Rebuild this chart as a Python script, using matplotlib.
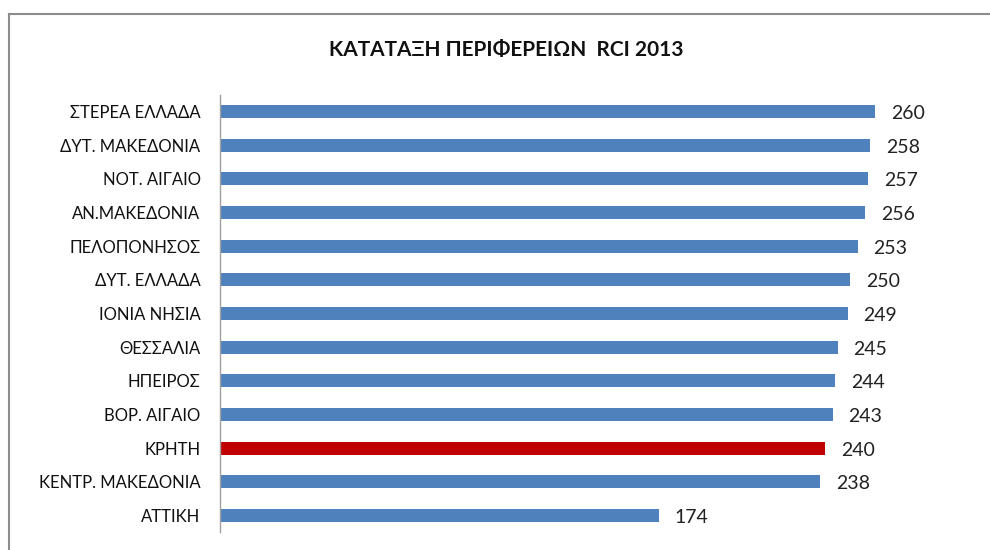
import matplotlib
matplotlib.use('Agg')
import matplotlib.pyplot as plt
from matplotlib.lines import Line2D

plt.rcParams['font.family'] = ['Lato', 'Open Sans', 'DejaVu Sans']

# data (top to bottom as shown)
regions = ['ΣΤΕΡΕΑ ΕΛΛΑΔΑ', 'ΔΥΤ. ΜΑΚΕΔΟΝΙΑ', 'ΝΟΤ. ΑΙΓΑΙΟ', 'ΑΝ.ΜΑΚΕΔΟΝΙΑ',
           'ΠΕΛΟΠΟΝΗΣΟΣ', 'ΔΥΤ. ΕΛΛΑΔΑ', 'ΙΟΝΙΑ ΝΗΣΙΑ', 'ΘΕΣΣΑΛΙΑ', 'ΗΠΕΙΡΟΣ',
           'ΒΟΡ. ΑΙΓΑΙΟ', 'ΚΡΗΤΗ', 'ΚΕΝΤΡ. ΜΑΚΕΔΟΝΙΑ', 'ΑΤΤΙΚΗ']
rci = [260, 258, 257, 256, 253, 250, 249, 245, 244, 243, 240, 238, 174]
highlight = 'ΚΡΗΤΗ'

W, H = 990, 550
fig = plt.figure(figsize=(W / 100, H / 100), dpi=100)

# plot area in pixels
x0, x1 = 220, 951
y_top, y_bot = 94.7, 532.3
ax = fig.add_axes([x0 / W, 1 - y_bot / H, (x1 - x0) / W, (y_bot - y_top) / H])

pos = list(range(len(regions)))[::-1]
colors = ['#c00000' if r == highlight else '#4f81bd' for r in regions]
ax.barh(pos, rci, height=0.39, color=colors, edgecolor='none')

for p, v in zip(pos, rci):
    ax.text(v + 6.3, p - 0.06, str(v), va='center', ha='left', fontsize=14, color='#222222')

ax.set_xlim(0, 290)
ax.set_ylim(-0.5, len(regions) - 0.5)
ax.set_yticks(pos)
ax.set_yticklabels(regions, fontsize=12, color='#111111')
ax.tick_params(axis='y', length=0, pad=14)
ax.set_xticks([])
for s in ['top', 'right', 'bottom']:
    ax.spines[s].set_visible(False)
ax.spines['left'].set_color('#a0a0a0')
ax.spines['left'].set_linewidth(1)

fig.text(506 / W, 1 - 50 / H, 'ΚΑΤΑΤΑΞΗ ΠΕΡΙΦΕΡΕΙΩΝ  RCI 2013', ha='center', va='center',
         fontsize=15, fontweight='bold', color='#111111')

# chart frame (top and left edges visible)
fig.add_artist(Line2D([9 / W, 1], [1 - 14 / H, 1 - 14 / H], color='#8c8c8c', lw=1.5,
                      transform=fig.transFigure))
fig.add_artist(Line2D([9 / W, 9 / W], [1 - 14 / H, 0], color='#8c8c8c', lw=1.5,
                      transform=fig.transFigure))

fig.savefig('out.png', dpi=100)
